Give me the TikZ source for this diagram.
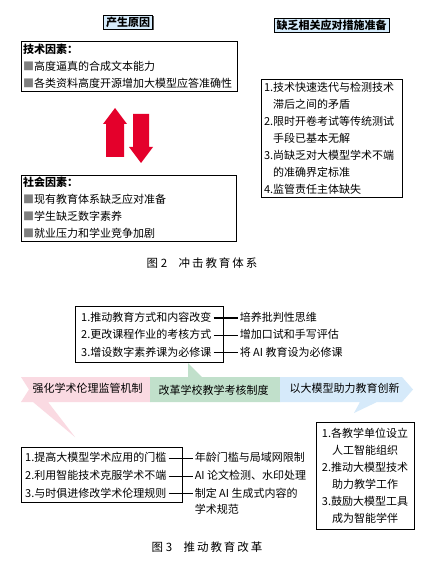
\documentclass[tikz,border=0pt]{standalone}
\usepackage{fontspec}
\setmainfont{Noto Sans CJK SC}
\usepackage{tikz}
\usetikzlibrary{positioning, shadows}
\definecolor{titleblue}{RGB}{214,236,252}
\definecolor{arrowred}{RGB}{228,0,43}
\definecolor{bannerpink}{RGB}{250,218,226}
\definecolor{bannergreen}{RGB}{193,224,203}
\definecolor{bannerblue}{RGB}{214,234,250}
\definecolor{bulletgray}{RGB}{128,128,128}

\newcommand{\sqmark}{\textcolor{bulletgray}{■}}

\tikzset{
  boxshadow/.style={drop shadow={shadow xshift=1pt, shadow yshift=-1pt, fill=black!65, opacity=1}},
  titlebox/.style={draw, line width=0.9pt, fill=titleblue, boxshadow,
    font=\bfseries\fontsize{11}{13}\selectfont, inner xsep=2.5pt, inner ysep=1.2pt,
    text height=9.8pt, text depth=1.8pt},
  listbox/.style={draw, line width=0.9pt, fill=white, boxshadow, inner xsep=2pt,
    inner ysep=0pt, align=left},
  rowtext/.style={inner xsep=2pt, inner ysep=1pt, text height=9pt, text depth=2pt},
  linkline/.style={line width=0.7pt},
  bannertext/.style={font=\fontsize{11}{13}\selectfont, text=black},
  captiontext/.style={font=\fontsize{11.5}{13}\selectfont}
}

\begin{document}
\begin{tikzpicture}[x=1pt, y=-1pt, font=\fontsize{11}{17}\selectfont]

  \fill[white] (0,0) rectangle (434,564);
  \useasboundingbox (0,0) rectangle (434,564);

  % Figure 2 - titles
  \node[titlebox] (causetitle) at (128,22.5) {产生原因};
  \node[titlebox] (preptitle) at (331.5,25.5) {缺乏相关应对措施准备};

  % Figure 2 - technical factors
  \node[listbox, text width=212pt, minimum height=50pt] (techbox) at (129,66)
    {\textbf{技术因素：}\\
     \sqmark 高度逼真的合成文本能力\\
     \sqmark 各类资料高度开源增加大模型应答准确性};

  % Figure 2 - up and down arrows
  \fill[arrowred] (106,157) -- (106,124) -- (103,124) -- (115,108) -- (127,124)
    -- (124,124) -- (124,157) -- cycle;
  \fill[arrowred] (133,114) -- (149,114) -- (149,147) -- (153,147) -- (141,163)
    -- (129,147) -- (133,147) -- cycle;

  % Figure 2 - social factors
  \node[listbox, text width=211pt, minimum height=66pt] (socialbox) at (128.5,208)
    {\textbf{社会因素：}\\
     \sqmark 现有教育体系缺乏应对准备\\
     \sqmark 学生缺乏数字素养\\
     \sqmark 就业压力和学业竞争加剧};

  % Figure 2 - missing measures
  \node[listbox, inner xsep=3pt, text width=135pt, minimum height=118pt] (prepbox) at (331.5,138)
    {1.技术快速迭代与检测技术\\
     \phantom{1.}滞后之间的矛盾\\
     2.限时开卷考试等传统测试\\
     \phantom{2.}手段已基本无解\\
     3.尚缺乏对大模型学术不端\\
     \phantom{3.}的准确界定标准\\
     4.监管责任主体缺失};

  \node[captiontext] (fig2cap) at (202,263) {图 2\quad 冲\,击\,教\,育\,体\,系};

  % Figure 3 - banner
  \fill[bannerpink] (21,377) -- (150,377) -- (150,402) -- (48,402) -- (75,437)
    -- (33,402) -- (21,402) -- (29,389.5) -- cycle;
  \fill[bannergreen] (150,377) -- (188,377) -- (188,363) -- (202,377) -- (280,377)
    -- (280,402) -- (150,402) -- cycle;
  \fill[bannerblue] (280,377) -- (402,377) -- (413,389.5) -- (402,402) -- (377,402)
    -- (354,413) -- (360,402) -- (280,402) -- cycle;
  \node[bannertext] (ethicband) at (87.5,388.5) {强化学术伦理监管机制};
  \node[bannertext] (examband) at (213.5,390) {改革学校教学考核制度};
  \node[bannertext] (modelband) at (344.5,388.5) {以大模型助力教育创新};

  % Figure 3 - teaching reform
  \draw[line width=0.9pt, fill=white, boxshadow] (75,306) rectangle (223,362);
  \node[rowtext, anchor=west] (reform1) at (79,318) {1.推动教育方式和内容改变};
  \node[rowtext, below right=4pt and 0pt of reform1.south west] (reform2) {2.更改课程作业的考核方式};
  \node[rowtext, below right=4pt and 0pt of reform2.south west] (reform3) {3.增设数字素养课为必修课};
  \node[rowtext, right=24pt of reform1] (aim1) {培养批判性思维};
  \node[rowtext, right=24pt of reform2] (aim2) {增加口试和手写评估};
  \node[rowtext, right=24pt of reform3] (aim3) {将 AI 教育设为必修课};
  \draw[line width=1.4pt] (reform1) -- (aim1);
  \draw[linkline] (reform2) -- (aim2);
  \draw[linkline] (reform3) -- (aim3);

  % Figure 3 - academic ethics
  \draw[line width=0.9pt, fill=white, boxshadow] (21,447) rectangle (182,502);
  \node[rowtext, anchor=west] (ethic1) at (23,458) {1.提高大模型学术应用的门槛};
  \node[rowtext, below right=4.5pt and 0pt of ethic1.south west] (ethic2) {2.利用智能技术克服学术不端};
  \node[rowtext, below right=4.5pt and 0pt of ethic2.south west] (ethic3) {3.与时俱进修改学术伦理规则};
  \node[rowtext, right=24pt of ethic1] (rule1) {年龄门槛与局域网限制};
  \node[rowtext, right=24pt of ethic2] (rule2) {AI 论文检测、水印处理};
  \node[rowtext, right=24pt of ethic3] (rule3) {制定 AI 生成式内容的};
  \node[rowtext, below right=3pt and 0pt of rule3.south west] (rule3b) {学术规范};
  \draw[linkline] (ethic1) -- (rule1);
  \draw[linkline] (ethic2) -- (rule2);
  \draw[linkline] (ethic3) -- (rule3);

  % Figure 3 - large model support
  \node[listbox, align=center, text width=94pt, minimum height=107pt] (modelbox) at (365,475.5)
    {1.各教学单位设立\\
     人工智能组织\\
     2.推动大模型技术\\
     助力教学工作\\
     3.鼓励大模型工具\\
     成为智能学伴};

  \node[captiontext] (fig3cap) at (207,547) {图 3\quad 推\,动\,教\,育\,改\,革};

\end{tikzpicture}
\end{document}
